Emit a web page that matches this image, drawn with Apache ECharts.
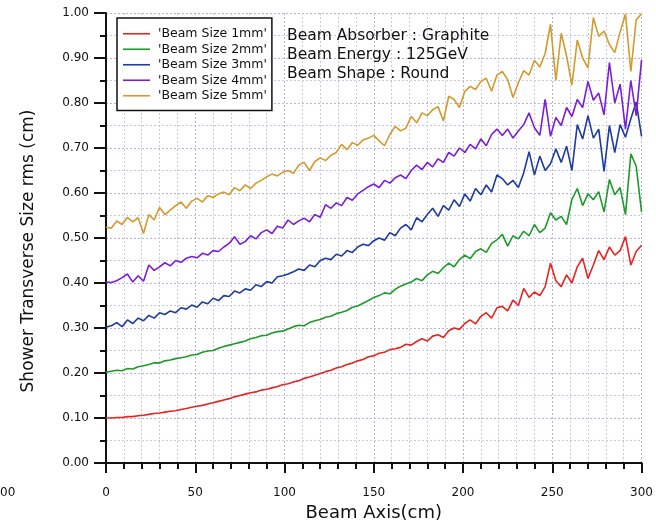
<!DOCTYPE html>
<html><head><meta charset="utf-8">
<script src="https://cdn.jsdelivr.net/npm/echarts@6/dist/echarts.min.js"></script>
<style>html,body{margin:0;padding:0;background:#fff}#c{width:656px;height:527px}</style>
</head><body><div id="c"></div>
<script>
var beamAxis = [0,3,6,9,12,15,18,21,24,27,30,33,36,39,42,45,48,51,54,57,60,63,66,69,72,75,78,81,84,87,90,93,96,99,102,105,108,111,114,117,120,123,126,129,132,135,138,141,144,147,150,153,156,159,162,165,168,171,174,177,180,183,186,189,192,195,198,201,204,207,210,213,216,219,222,225,228,231,234,237,240,243,246,249,252,255,258,261,264,267,270,273,276,279,282,285,288,291,294,297,300];
var seriesNames = ["'Beam Size 1mm'","'Beam Size 2mm'","'Beam Size 3mm'","'Beam Size 4mm'","'Beam Size 5mm'"];
var size1mm = [.100,.100,.101,.101,.103,.103,.105,.106,.108,.110,.111,.113,.115,.116,.119,.121,.124,.126,.128,.131,.134,.137,.140,.143,.147,.150,.153,.156,.158,.162,.164,.167,.170,.174,.176,.180,.183,.188,.191,.195,.199,.203,.206,.211,.214,.219,.222,.227,.230,.236,.238,.244,.246,.252,.254,.257,.264,.262,.270,.276,.271,.282,.285,.279,.294,.300,.297,.310,.318,.309,.326,.334,.322,.345,.348,.338,.362,.350,.388,.368,.380,.372,.392,.444,.405,.392,.418,.400,.436,.455,.410,.440,.472,.452,.480,.462,.472,.503,.440,.470,.484];
var size2mm = [.202,.204,.206,.205,.210,.209,.214,.216,.219,.223,.222,.227,.229,.232,.234,.236,.240,.241,.246,.249,.250,.255,.259,.262,.265,.268,.271,.276,.279,.283,.284,.289,.292,.293,.298,.303,.306,.305,.312,.316,.319,.324,.326,.332,.335,.339,.346,.349,.355,.361,.368,.372,.378,.376,.386,.393,.398,.402,.410,.405,.418,.426,.421,.434,.444,.436,.452,.462,.454,.470,.476,.468,.488,.496,.508,.482,.505,.498,.515,.505,.530,.512,.522,.556,.540,.548,.530,.586,.610,.572,.598,.585,.603,.558,.630,.596,.612,.552,.687,.660,.558];
var size3mm = [.302,.305,.312,.303,.318,.310,.322,.316,.328,.322,.334,.330,.338,.334,.345,.342,.351,.346,.358,.354,.366,.361,.372,.370,.382,.378,.387,.384,.396,.392,.403,.400,.414,.416,.420,.425,.431,.428,.440,.436,.450,.455,.452,.464,.460,.472,.468,.480,.486,.483,.494,.500,.495,.512,.505,.522,.530,.518,.545,.536,.552,.566,.548,.572,.562,.585,.570,.598,.582,.610,.596,.618,.602,.640,.632,.618,.628,.612,.645,.692,.640,.682,.650,.665,.698,.668,.704,.650,.752,.720,.772,.722,.742,.648,.750,.690,.752,.724,.765,.802,.726];
var size4mm = [.402,.401,.405,.412,.420,.402,.416,.404,.440,.428,.436,.445,.438,.450,.446,.455,.459,.456,.466,.462,.472,.470,.480,.488,.503,.486,.492,.505,.498,.512,.518,.510,.526,.522,.540,.530,.538,.544,.536,.552,.546,.574,.566,.578,.572,.590,.584,.598,.606,.614,.620,.612,.628,.622,.634,.640,.632,.650,.662,.652,.668,.658,.676,.668,.690,.682,.700,.690,.708,.698,.720,.705,.730,.742,.728,.742,.722,.738,.752,.778,.745,.728,.808,.726,.768,.750,.790,.770,.808,.790,.848,.806,.822,.774,.890,.800,.842,.742,.850,.772,.896];
var size5mm = [.524,.522,.538,.530,.546,.536,.545,.510,.552,.540,.568,.552,.562,.572,.580,.566,.582,.588,.580,.594,.590,.598,.602,.596,.612,.605,.618,.610,.622,.628,.636,.642,.638,.646,.650,.644,.662,.668,.650,.670,.678,.672,.684,.690,.708,.696,.712,.706,.718,.722,.728,.716,.705,.730,.748,.738,.744,.770,.756,.778,.772,.785,.792,.760,.815,.808,.790,.826,.837,.830,.848,.855,.826,.862,.870,.852,.812,.845,.872,.862,.895,.880,.910,.975,.850,.955,.905,.840,.940,.900,.878,.990,.948,.960,.930,.912,.958,.998,.870,.985,.998];
var seriesValues = [size1mm, size2mm, size3mm, size4mm, size5mm];
var seriesColors = ['#e62420','#1f9a2a','#1e3c9e','#7a1ed8','#d39a2c'];
var annotations = ['Beam Absorber : Graphite','Beam Energy : 125GeV','Beam Shape : Round'];
var xTitle = 'Beam Axis(cm)';
var yTitle = 'Shower Transverse Size rms (cm)';
var leftPanelLabel = '00';

var FONT = 'DejaVu Sans, Verdana, sans-serif';
var chart = echarts.init(document.getElementById('c'), null, {renderer:'canvas'});
var series = seriesValues.map(function(vals, k){
  return {
    name: seriesNames[k], type:'line', showSymbol:false, symbol:'none',
    data: vals.map(function(v,i){ return [beamAxis[i], v]; }),
    lineStyle:{color:seriesColors[k], width:1.6},
    itemStyle:{color:seriesColors[k]},
    animation:false, z: 3
  };
});
chart.setOption({
  animation:false,
  backgroundColor:'#fff',
  grid:{left:106, right:12, top:13, bottom:61},
  xAxis:{
    type:'value', min:0, max:300, interval:50,
    name:xTitle, nameLocation:'middle', nameGap:41,
    nameTextStyle:{fontSize:18, color:'#111', fontFamily:FONT},
    axisLine:{show:true, onZero:false, lineStyle:{color:'#111', width:2}},
    axisTick:{show:true, length:10, lineStyle:{color:'#111', width:2}},
    minorTick:{show:true, splitNumber:5, length:6, lineStyle:{color:'#111', width:2}},
    axisLabel:{fontSize:12, color:'#111', margin:24, fontFamily:FONT},
    splitLine:{show:true, lineStyle:{color:'#b4b4dc', type:[2,2], width:1}},
    minorSplitLine:{show:true, lineStyle:{color:'#c8c8e6', type:[2,2], width:1}}
  },
  yAxis:{
    type:'value', min:0, max:1, interval:0.1,
    axisLine:{show:true, onZero:false, lineStyle:{color:'#111', width:2}},
    axisTick:{show:true, length:12, lineStyle:{color:'#111', width:2}},
    minorTick:{show:true, splitNumber:2, length:6, lineStyle:{color:'#111', width:2}},
    axisLabel:{fontSize:12, color:'#111', margin:17, fontFamily:FONT, formatter:function(v){return v.toFixed(2);}},
    splitLine:{show:true, lineStyle:{color:'#b4b4dc', type:[2,2], width:1}},
    minorSplitLine:{show:true, lineStyle:{color:'#c8c8e6', type:[2,2], width:1}}
  },
  legend:{
    show:true, orient:'vertical', left:117, top:18,
    backgroundColor:'#fff', borderColor:'#111', borderWidth:1.5,
    padding:[8,5,7,6], itemGap:0, itemWidth:27, itemHeight:15.5,
    icon:'path://M0,7 L27,7 L27,8.6 L0,8.6 Z',
    textStyle:{fontSize:12.5, lineHeight:15.5, color:'#111', fontFamily:FONT, padding:[0,0,0,3]},
    data:seriesNames
  },
  graphic: annotations.map(function(t,i){
    return {type:'text', left:287, top:28+i*19, z:10,
      style:{text:t, fill:'#111', font:'15.5px ' + FONT}};
  }).concat([
    {type:'text', x:28.5, y:251, rotation:Math.PI/2, z:10,
      style:{text:yTitle, fill:'#111', font:'17px ' + FONT, textAlign:'center', textVerticalAlign:'middle'}},
    {type:'text', left:0, top:487, z:10,
      style:{text:leftPanelLabel, fill:'#111', font:'12px ' + FONT}}
  ]),
  series:series
});
</script></body></html>
